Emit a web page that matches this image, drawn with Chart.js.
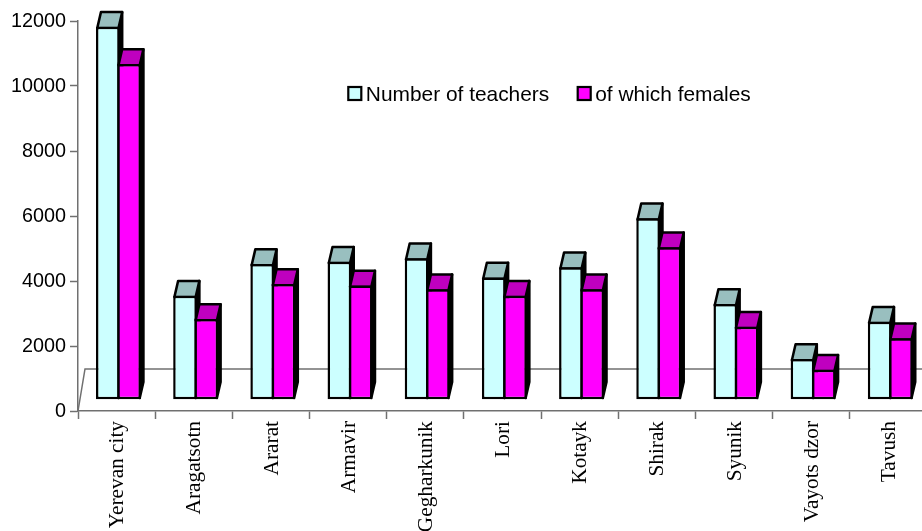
<!DOCTYPE html>
<html>
<head>
<meta charset="utf-8">
<title>Teachers by region</title>
<script src="https://cdn.jsdelivr.net/npm/chart.js@4/dist/chart.umd.min.js"></script>
<style>
    html, body { margin: 0; padding: 0; background: #fff; overflow: hidden; }
    #wrap { width: 922px; height: 531px; overflow: hidden; }
    canvas { display: block; }
</style>
</head>
<body>
<div id="wrap"><canvas id="chart" width="930" height="531"></canvas></div>
<script>
const regions = ['Yerevan city', 'Aragatsotn', 'Ararat', 'Armavir', 'Gegharkunik', 'Lori', 'Kotayk', 'Shirak', 'Syunik', 'Vayots dzor', 'Tavush'];
const teachers = [11820, 3550, 4520, 4590, 4700, 4110, 4420, 5930, 3290, 1600, 2750];
const females = [10680, 2830, 3910, 3860, 3750, 3550, 3750, 5040, 2590, 1270, 2240];
// the 3d bars stand a bit forward of the floor edge, so they start above 0
const barFloor = 360;

const GREY = '#707070';
const SANS = '"Liberation Sans", Arial, sans-serif';
const SERIF = '"Liberation Serif", "Times New Roman", serif';
const LEGEND_SIZE = 20.9;
const TICK_SIZE = 19.8;
const SERIF_SIZE = 21.3;
const EDGE = 2.5;

// depth of the bars and of the floor, in pixels
const barDepth = { x: 3.7, y: -16 };
const floorDepth = { x: 7, y: -42 };
const groupShift = 1.9;

function face(ctx, points, fill) {
    ctx.beginPath();
    points.forEach((p, i) => i ? ctx.lineTo(p[0], p[1]) : ctx.moveTo(p[0], p[1]));
    ctx.closePath();
    ctx.fillStyle = fill;
    ctx.fill();
    ctx.stroke();
}

function drawFaces(chart, index) {
    const ctx = chart.ctx;
    const ds = chart.data.datasets[index];
    const inset = EDGE / 2;
    ctx.save();
    ctx.strokeStyle = '#000';
    ctx.lineWidth = EDGE;
    ctx.lineJoin = 'round';
    chart.getDatasetMeta(index).data.forEach(bar => {
        const l = bar.x - bar.width / 2 + inset, r = bar.x + bar.width / 2 - inset;
        const t = bar.y + inset, b = bar.base - inset;
        const dx = barDepth.x, dy = barDepth.y;
        face(ctx, [[r, t], [r + dx, t + dy], [r + dx, b + dy], [r, b]], ds.sideColor);
        face(ctx, [[l, t], [l + dx, t + dy], [r + dx, t + dy], [r, t]], ds.topColor);
    });
    ctx.restore();
}

const bars3d = {
    id: 'bars3d',
    beforeDatasetsDraw(chart) {
        const ctx = chart.ctx;
        const x = chart.scales.x;
        const y0 = chart.scales.y.getPixelForValue(0);
        // floor edge behind the bars
        ctx.save();
        ctx.strokeStyle = GREY;
        ctx.lineWidth = 1.5;
        ctx.beginPath();
        ctx.moveTo(x.left, y0);
        ctx.lineTo(x.left + floorDepth.x, y0 + floorDepth.y);
        ctx.lineTo(x.right, y0 + floorDepth.y);
        ctx.stroke();
        ctx.restore();
        ctx.save();
        ctx.translate(groupShift, 0);
    },
    afterDatasetsDraw(chart) {
        chart.ctx.restore();
    },
    // chart.js paints the last dataset first, here the females have to go on top
    beforeDatasetDraw(chart, args) {
        if (args.index === 1) return false;
        drawFaces(chart, 0);
    },
    afterDatasetDraw(chart, args) {
        if (args.index === 0) {
            drawFaces(chart, 1);
            chart.getDatasetMeta(1).controller.draw();
        }
    }
};

const legendBoxes = {
    id: 'legendBoxes',
    afterDraw(chart) {
        const ctx = chart.ctx;
        const spots = [348.3, 577.7];
        ctx.save();
        chart.data.datasets.forEach((ds, i) => {
            ctx.fillStyle = ds.backgroundColor;
            ctx.strokeStyle = '#000';
            ctx.lineWidth = 2.2;
            ctx.fillRect(spots[i], 87, 13, 13);
            ctx.strokeRect(spots[i], 87, 13, 13);
            ctx.fillStyle = '#000';
            ctx.font = LEGEND_SIZE + 'px ' + SANS;
            ctx.textBaseline = 'middle';
            ctx.fillText(ds.label, spots[i] + 17.5, 95);
        });
        ctx.restore();
    }
};

new Chart(document.getElementById('chart'), {
    type: 'bar',
    data: {
        labels: regions,
        datasets: [
            {
                label: 'Number of teachers',
                data: teachers,
                base: barFloor,
                backgroundColor: '#ccffff',
                topColor: '#99bfbf',
                sideColor: '#000'
            },
            {
                label: 'of which females',
                data: females,
                base: barFloor,
                backgroundColor: '#ff00ff',
                topColor: '#bf00bf',
                sideColor: '#000'
            }
        ]
    },
    plugins: [bars3d, legendBoxes],
    options: {
        responsive: false,
        animation: false,
        layout: { padding: { top: 21, right: 3, left: 0, bottom: 0 } },
        datasets: {
            bar: {
                categoryPercentage: 0.5505,
                barPercentage: 1.118,
                borderColor: '#000',
                borderWidth: EDGE,
                borderSkipped: false
            }
        },
        plugins: {
            legend: { display: false },
            tooltip: { enabled: false }
        },
        scales: {
            x: {
                afterFit(scale) { scale.height = 120; },
                border: { color: GREY, width: 1.5 },
                grid: { drawOnChartArea: false, color: GREY, tickLength: 8, tickWidth: 1.5 },
                ticks: {
                    autoSkip: false,
                    minRotation: 90,
                    maxRotation: 90,
                    padding: 2,
                    labelOffset: 1,
                    color: '#000',
                    font: { family: SERIF, size: SERIF_SIZE }
                }
            },
            y: {
                min: 0,
                max: 12000,
                afterFit(scale) { scale.width = 78; },
                border: { color: GREY, width: 1.5 },
                grid: { drawOnChartArea: false, color: GREY, tickLength: 8, tickWidth: 1.5 },
                ticks: {
                    stepSize: 2000,
                    padding: 4,
                    labelOffset: 1,
                    color: '#000',
                    font: { family: SANS, size: TICK_SIZE },
                    callback: v => String(v)
                }
            }
        }
    }
});
</script>
</body>
</html>
